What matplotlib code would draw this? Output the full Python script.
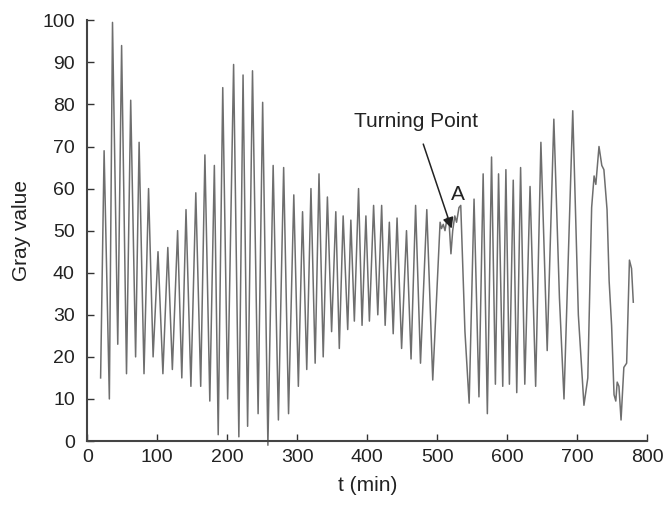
import matplotlib
matplotlib.use('Agg')
import matplotlib.pyplot as plt

plt.rcParams['font.family'] = ['Liberation Sans', 'DejaVu Sans']

# Gray value trace (peaks, troughs and a few turning points)
t_min = [19, 24, 31.5, 36, 43.5, 49, 56, 62, 69, 74,
         81, 87.5, 94, 101, 108, 115, 121.5, 129, 135, 141,
         148, 155, 162, 168, 175, 181.5, 187, 193.5, 200.5, 209,
         216.5, 222.5, 229, 236, 244, 250.5, 258, 265.5, 273, 280.5,
         287.5, 295, 301.5, 307.5, 313.5, 319.5, 325.5, 331, 337, 343,
         349, 355, 360, 365.5, 372, 376.5, 381.5, 387.5, 392.5, 398,
         403, 409, 415, 420.5, 425.5, 431.5, 437, 442.5, 449, 456,
         462.5, 469, 476, 485, 493.5, 504, 506, 508.5, 511, 514,
         517, 519.5, 522, 525, 527.5, 531, 533.5, 539.5, 545.5, 552.5,
         559.5, 565.5, 571.5, 577.5, 583, 587.5, 593.5, 598, 603, 608.5,
         613.5, 619, 625, 632.5, 640.5, 648, 657, 666.5, 674.5, 681,
         693.5, 701.5, 709.5, 715, 720.5, 724, 726.5, 731, 735, 738,
         742.5, 745.5, 749, 752.5, 755, 757, 759.5, 762.5, 766.5, 770.5,
         774.5, 777.5, 780]
gray = [15, 69, 10, 99.5, 23, 94, 16, 81, 20, 71,
        16, 60, 20, 45, 16, 46, 17, 50, 15, 55,
        13, 59, 13, 68, 9.5, 65.5, 1.5, 84, 10, 89.5,
        1, 87, 3.5, 88, 6.5, 80.5, -1, 65.5, 5, 65,
        6.5, 58.5, 13, 54.5, 17, 60, 18.5, 63.5, 20, 58,
        26, 54.5, 22, 53.5, 26.5, 52.5, 28.5, 60, 27.5, 53.5,
        28.5, 56, 30, 56, 27.5, 52, 25.5, 53, 22, 50,
        19.5, 56, 18.5, 55, 14.5, 52, 50.5, 51.5, 50, 53,
        51.5, 44.5, 50, 53.5, 52, 55.5, 56, 26, 9, 57.5,
        10.5, 63.5, 6.5, 67.5, 13.5, 63.5, 13, 64.5, 13.5, 62,
        11.5, 65, 13.5, 60.5, 13, 71, 21.5, 76.5, 34, 10,
        78.5, 30, 8.5, 15, 55.5, 63, 61, 70, 65.5, 64.5,
        55, 38, 27.5, 11, 9.5, 14, 13, 5, 17.5, 18.5,
        43, 41, 33]

x_ticks = [0, 100, 200, 300, 400, 500, 600, 700, 800]
y_ticks = [0, 10, 20, 30, 40, 50, 60, 70, 80, 90, 100]

fig = plt.figure(figsize=(6.68, 5.05), dpi=100)
ax = fig.add_axes([0.1307, 0.1267, 0.8383, 0.8331])

ax.plot(t_min, gray, color='#6e6e6e', linewidth=1.1, clip_on=False)

ax.set_xlim(0, 800)
ax.set_ylim(0, 100)
ax.set_xticks(x_ticks)
ax.set_yticks(y_ticks)
ax.tick_params(direction='in', length=5, width=1, color='#333333',
               labelsize=14, labelcolor='#222222')
ax.tick_params(axis='y', pad=9)
ax.tick_params(axis='x', pad=6)
for side in ['top', 'right']:
    ax.spines[side].set_visible(False)
for side in ['left', 'bottom']:
    ax.spines[side].set_color('#444444')
    ax.spines[side].set_linewidth(1.5)

ax.set_xlabel('t (min)', fontsize=15, color='#222222', labelpad=7)
ax.set_ylabel('Gray value', fontsize=15, color='#222222', labelpad=8)

ax.annotate('Turning Point', xy=(520.5, 50.5), xytext=(469, 76),
            fontsize=15, ha='center', va='center', color='#222222',
            arrowprops=dict(arrowstyle='-|>', color='#222222', lw=1.1,
                            shrinkA=8, shrinkB=0, mutation_scale=16))
ax.text(530, 58.6, 'A', fontsize=15, ha='center', va='center', color='#222222')

fig.savefig('out.png', dpi=100)
